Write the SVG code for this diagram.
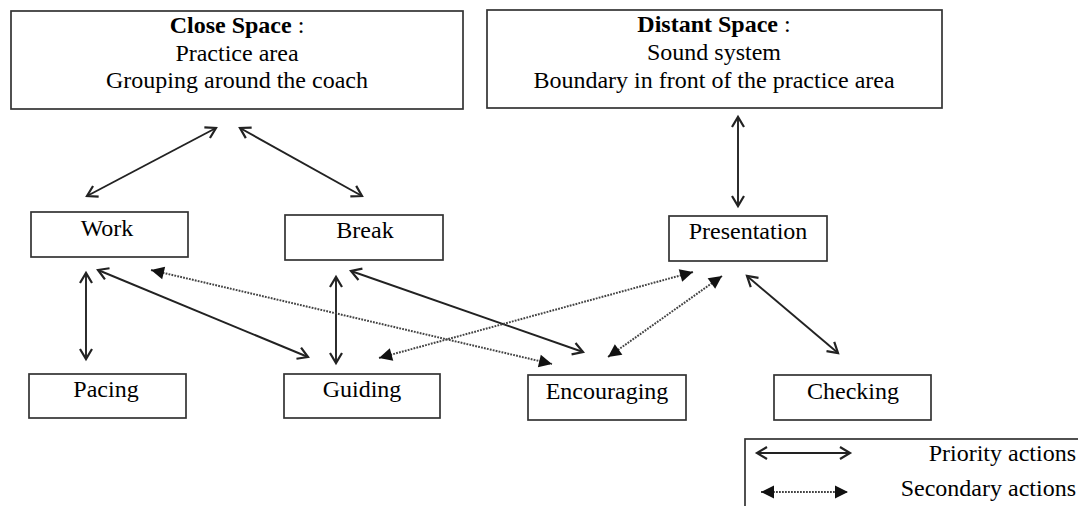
<svg xmlns="http://www.w3.org/2000/svg" width="1078" height="506" viewBox="0 0 1078 506">
<style>
.box{fill:#fff;stroke:#333;stroke-width:1.7}
.t{font-family:"Liberation Serif","Times New Roman",serif;font-size:24px;fill:#000;text-anchor:middle}
.b{font-weight:bold}
.pri{stroke:#222;stroke-width:1.9;fill:none;marker-start:url(#mp);marker-end:url(#mp)}
.sec{stroke:#444;stroke-width:2;stroke-dasharray:1.8 1.2;fill:none;marker-start:url(#ms);marker-end:url(#ms)}
</style>
<defs>
<marker id="mp" markerUnits="userSpaceOnUse" viewBox="-14 -8 16 16" refX="0" refY="0" markerWidth="16" markerHeight="16" orient="auto-start-reverse" overflow="visible">
<path d="M-10,-6 L0,0 L-10,6" fill="none" stroke="#222" stroke-width="2.2"/>
</marker>
<marker id="ms" markerUnits="userSpaceOnUse" viewBox="-14 -8 16 16" refX="0" refY="0" markerWidth="16" markerHeight="16" orient="auto-start-reverse" overflow="visible">
<path d="M-13,-6.5 L0,0 L-13,6.5 Z" fill="#111"/>
</marker>
</defs>
<rect width="1078" height="506" fill="#fff"/>

<g id="close-space">
<rect class="box" x="11" y="11" width="452" height="98"/>
<text class="t" x="237" y="33"><tspan class="b">Close Space</tspan> :</text>
<text class="t" x="237" y="61">Practice area</text>
<text class="t" x="237" y="88">Grouping around the coach</text>
</g>
<g id="distant-space">
<rect class="box" x="487" y="10" width="455" height="98"/>
<text class="t" x="714" y="32"><tspan class="b">Distant Space</tspan> :</text>
<text class="t" x="714" y="60">Sound system</text>
<text class="t" x="714" y="88">Boundary in front of the practice area</text>
</g>
<g id="work">
<rect class="box" x="31" y="212" width="157" height="45"/>
<text class="t" x="107" y="236">Work</text>
</g>
<g id="break">
<rect class="box" x="285" y="215" width="158" height="45"/>
<text class="t" x="365" y="238">Break</text>
</g>
<g id="presentation">
<rect class="box" x="669" y="216" width="158" height="45"/>
<text class="t" x="748" y="239">Presentation</text>
</g>
<g id="pacing">
<rect class="box" x="29" y="374" width="157" height="44"/>
<text class="t" x="106" y="397">Pacing</text>
</g>
<g id="guiding">
<rect class="box" x="284" y="374" width="156" height="44"/>
<text class="t" x="362" y="397">Guiding</text>
</g>
<g id="encouraging">
<rect class="box" x="528" y="375" width="158" height="45"/>
<text class="t" x="607" y="399">Encouraging</text>
</g>
<g id="checking">
<rect class="box" x="774" y="375" width="157" height="45"/>
<text class="t" x="853" y="399">Checking</text>
</g>

<g id="connectors">
<line class="pri" x1="216" y1="128" x2="87" y2="196"/>
<line class="pri" x1="240" y1="128" x2="362" y2="196"/>
<line class="pri" x1="738" y1="117" x2="738" y2="206"/>
<line class="pri" x1="86" y1="273" x2="86" y2="359"/>
<line class="pri" x1="98" y1="270" x2="308" y2="357"/>
<line class="pri" x1="336" y1="277" x2="336" y2="363"/>
<line class="pri" x1="351" y1="271" x2="583" y2="352"/>
<line class="pri" x1="747" y1="276" x2="838" y2="353"/>
<line class="sec" x1="151" y1="270" x2="552" y2="364"/>
<line class="sec" x1="693" y1="272" x2="379" y2="358"/>
<line class="sec" x1="722" y1="276" x2="608" y2="357"/>
</g>

<g id="legend">
<rect class="box" x="745" y="439" width="400" height="100"/>
<line class="pri" x1="757" y1="453" x2="850" y2="453"/>
<line class="sec" x1="761" y1="492" x2="848" y2="492"/>
<text class="t" x="1076" y="461" style="text-anchor:end">Priority actions</text>
<text class="t" x="1076" y="496" style="text-anchor:end">Secondary actions</text>
</g>
</svg>
